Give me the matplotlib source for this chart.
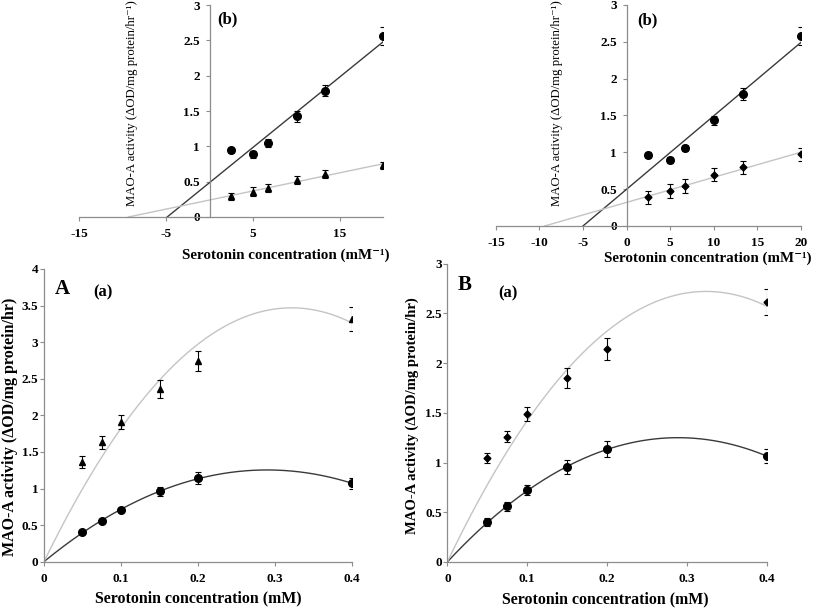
import matplotlib
matplotlib.use("Agg")
import matplotlib.pyplot as plt
from matplotlib.ticker import FuncFormatter
import numpy as np

plt.rcParams['font.family'] = ['Liberation Serif', 'DejaVu Serif']
plt.rcParams['font.weight'] = 'bold'

# serotonin concentrations (mM) and reciprocal (mM^-1)
conc = np.array([0.05, 0.075, 0.1, 0.15, 0.2, 0.4])
inv_conc = np.array([20, 13.33, 10, 6.67, 5, 2.5])

# panel A (a): control (circles) and treated (triangles)
A_ctrl = [0.40, 0.56, 0.705, 0.96, 1.145, 1.07]
A_ctrl_err = [0.02, 0.015, 0.03, 0.057, 0.08, 0.07]
A_trt = [1.36, 1.63, 1.91, 2.36, 2.74, 3.32]
A_trt_err = [0.085, 0.09, 0.095, 0.12, 0.14, 0.165]

# panel A (b): double reciprocal
Ab_ctrl = [2.566, 1.79, 1.425, 1.047, 0.89, 0.943]
Ab_ctrl_err = [0.13, 0.08, 0.08, 0.05, 0.05, 0.04]
Ab_trt = [0.73, 0.61, 0.52, 0.41, 0.36, 0.29]
Ab_trt_err = [0.05, 0.06, 0.06, 0.06, 0.06, 0.05]

# panel B (a): control (circles) and treated (diamonds)
B_ctrl = [0.398, 0.559, 0.72, 0.957, 1.135, 1.065]
B_ctrl_err = [0.04, 0.045, 0.05, 0.07, 0.077, 0.074]
B_trt = [1.045, 1.262, 1.486, 1.848, 2.146, 2.615]
B_trt_err = [0.05, 0.057, 0.072, 0.10, 0.11, 0.135]

# panel B (b): double reciprocal
Bb_ctrl = [2.575, 1.79, 1.434, 1.063, 0.89, 0.96]
Bb_ctrl_err = [0.12, 0.08, 0.06, 0.04, 0.04, 0.04]
Bb_trt = [0.973, 0.796, 0.697, 0.543, 0.475, 0.39]
Bb_trt_err = [0.09, 0.09, 0.09, 0.09, 0.09, 0.09]

DARK = '#3a3a3a'
LIGHT = '#c4c4c4'
SPINE = '#8c8c8c'
numfmt = FuncFormatter(lambda v, p: '%g' % v)


def style_axes(ax, ypad):
    for s in ['top', 'right']:
        ax.spines[s].set_visible(False)
    for s in ['left', 'bottom']:
        ax.spines[s].set_color(SPINE)
        ax.spines[s].set_linewidth(0.9)
    ax.tick_params(direction='out', length=3, width=0.8, color=SPINE,
                   labelsize=9.5)
    ax.tick_params(axis='x', pad=5)
    ax.tick_params(axis='y', pad=ypad)
    ax.yaxis.set_major_formatter(numfmt)
    ax.xaxis.set_major_formatter(numfmt)


def points(ax, x, y, err, marker, ms):
    ax.errorbar(x, y, yerr=err, fmt=marker, color='black', ms=ms,
                ecolor='black', elinewidth=0.8, capsize=2.5, capthick=0.8,
                zorder=3)


def quad_origin_fit(x, y):
    X = np.column_stack([x, x ** 2])
    coef, *_ = np.linalg.lstsq(X, np.asarray(y), rcond=None)
    xs = np.linspace(0, 0.4, 200)
    return xs, coef[0] * xs + coef[1] * xs ** 2


def lin_fit(x, y):
    m, c = np.polyfit(x, y, 1)
    xs = np.array([-c / m, 20])
    return xs, m * xs + c


fig = plt.figure(figsize=(8.13, 6.09), dpi=100)

# ---- top-left: A (b)
ax1 = fig.add_axes([0.0972, 0.6437, 0.3745, 0.348])
xs, ys = lin_fit(inv_conc, Ab_ctrl)
ax1.plot(xs, ys, color=DARK, lw=1.0)
xs, ys = lin_fit(inv_conc, Ab_trt)
ax1.plot(xs, ys, color=LIGHT, lw=1.0)
points(ax1, inv_conc, Ab_ctrl, Ab_ctrl_err, 'o', 5.5)
points(ax1, inv_conc, Ab_trt, Ab_trt_err, '^', 5)
ax1.set_xlim(-15, 20)
ax1.set_ylim(0, 3)
ax1.set_xticks([-15, -5, 5, 15])
ax1.set_yticks(np.arange(0, 3.01, 0.5))
ax1.spines['left'].set_position(('data', 0))
style_axes(ax1, 4)
ax1.text(0.455, 0.93, '(b)', transform=ax1.transAxes, fontsize=12,
         ha='left', va='center')

# ---- top-right: B (b)
ax2 = fig.add_axes([0.610, 0.629, 0.375, 0.363])
xs, ys = lin_fit(inv_conc, Bb_ctrl)
ax2.plot(xs, ys, color=DARK, lw=1.0)
xs, ys = lin_fit(inv_conc, Bb_trt)
ax2.plot(xs, ys, color=LIGHT, lw=1.0)
points(ax2, inv_conc, Bb_ctrl, Bb_ctrl_err, 'o', 5.5)
points(ax2, inv_conc, Bb_trt, Bb_trt_err, 'D', 3.5)
ax2.set_xlim(-15, 20)
ax2.set_ylim(0, 3)
ax2.set_xticks(np.arange(-15, 21, 5))
ax2.set_yticks(np.arange(0, 3.01, 0.5))
ax2.spines['left'].set_position(('data', 0))
style_axes(ax2, 4)
ax2.text(0.465, 0.93, '(b)', transform=ax2.transAxes, fontsize=12,
         ha='left', va='center')

# ---- bottom-left: A (a)
ax3 = fig.add_axes([0.0541, 0.0777, 0.3789, 0.4806])
xs, ys = quad_origin_fit(conc, A_ctrl)
ax3.plot(xs, ys, color=DARK, lw=1.0)
xs, ys = quad_origin_fit(conc, A_trt)
ax3.plot(xs, ys, color=LIGHT, lw=1.0)
points(ax3, conc, A_ctrl, A_ctrl_err, 'o', 5.5)
points(ax3, conc, A_trt, A_trt_err, '^', 5)
ax3.set_xlim(0, 0.4)
ax3.set_ylim(0, 4)
ax3.set_xticks(np.arange(0, 0.41, 0.1))
ax3.set_yticks(np.arange(0, 4.01, 0.5))
style_axes(ax3, 1)
ax3.text(0.06, 0.93, 'A', transform=ax3.transAxes, fontsize=15,
         ha='center', va='center')
ax3.text(0.19, 0.92, '(a)', transform=ax3.transAxes, fontsize=12,
         ha='center', va='center')

# ---- bottom-right: B (a)
ax4 = fig.add_axes([0.5502, 0.0772, 0.3929, 0.4898])
xs, ys = quad_origin_fit(conc, B_ctrl)
ax4.plot(xs, ys, color=DARK, lw=1.0)
xs, ys = quad_origin_fit(conc, B_trt)
ax4.plot(xs, ys, color=LIGHT, lw=1.0)
points(ax4, conc, B_ctrl, B_ctrl_err, 'o', 5.5)
points(ax4, conc, B_trt, B_trt_err, 'D', 3.5)
ax4.set_xlim(0, 0.4)
ax4.set_ylim(0, 3)
ax4.set_xticks(np.arange(0, 0.41, 0.1))
ax4.set_yticks(np.arange(0, 3.01, 0.5))
style_axes(ax4, 1)
ax4.text(0.055, 0.93, 'B', transform=ax4.transAxes, fontsize=15,
         ha='center', va='center')
ax4.text(0.19, 0.9, '(a)', transform=ax4.transAxes, fontsize=12,
         ha='center', va='center')

# axis titles
top_y = 'MAO-A activity (\u0394OD/mg protein/hr\u207b\u00b9)'
bot_y = 'MAO-A activity (\u0394OD/mg protein/hr)'
top_x = 'Serotonin concentration (mM\u207b\u00b9)'
bot_x = 'Serotonin concentration (mM)'

fig.text(0.162, 0.830, top_y, rotation=90, ha='center', va='center',
         fontsize=9.2, fontweight='normal')
fig.text(0.685, 0.830, top_y, rotation=90, ha='center', va='center',
         fontsize=9.2, fontweight='normal')
fig.text(0.351, 0.581, top_x, ha='center', va='center', fontsize=10.8)
fig.text(0.870, 0.576, top_x, ha='center', va='center', fontsize=10.8)
fig.text(0.0125, 0.299, bot_y, rotation=90, ha='center', va='center',
         fontsize=11.5)
fig.text(0.507, 0.318, bot_y, rotation=90, ha='center', va='center',
         fontsize=10.5)
fig.text(0.2435, 0.018, bot_x, ha='center', va='center', fontsize=11.4)
fig.text(0.744, 0.015, bot_x, ha='center', va='center', fontsize=11.4)

fig.savefig('out.png', dpi=100)
